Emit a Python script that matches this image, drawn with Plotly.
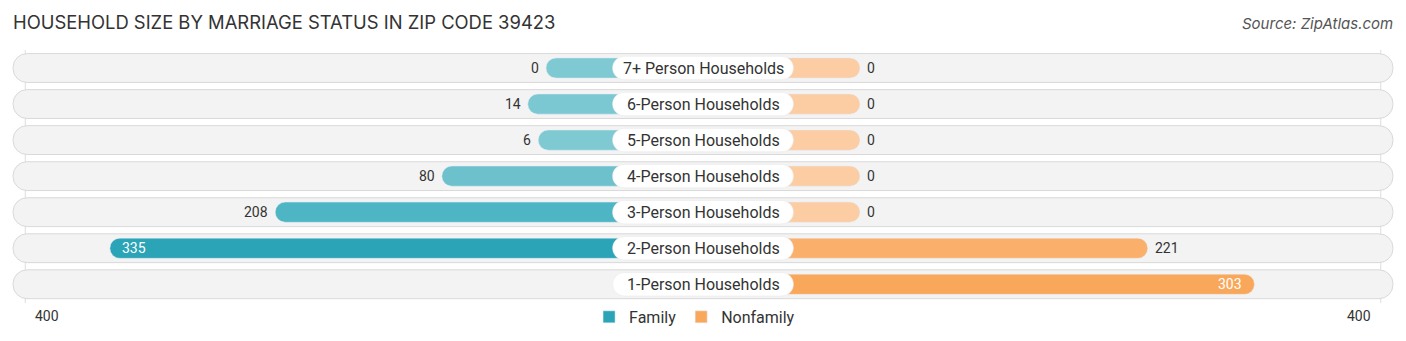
import plotly.graph_objects as go

categories = ["7+ Person Households", "6-Person Households", "5-Person Households",
              "4-Person Households", "3-Person Households", "2-Person Households",
              "1-Person Households"]
family = [0, 14, 6, 80, 208, 335, None]
nonfamily = [0, 0, 0, 0, 0, 221, 303]
family_colors = ["#7fc9d3", "#7cc8d2", "#7ec9d2", "#6cc1cc", "#4db5c3", "#2aa4b6", "#2aa4b6"]
nonfamily_colors = ["#fccca3", "#fccca3", "#fccca3", "#fccca3", "#fccca3", "#fab06b", "#f9a85b"]
axis_max = 400

OFF = 120.6          # hidden part of bar under the centre label (value units)
HALF = 530.0         # half width of row background
LBL = 69.5           # half width of label pill
n = len(categories)
ys = [n - 1 - i for i in range(n)]

fig = go.Figure()

# row backgrounds
fig.add_trace(go.Bar(
    y=ys, x=[2 * HALF] * n, base=[-HALF] * n, orientation="h", width=0.8,
    marker=dict(color="#f3f3f3", line=dict(color="#d9d9d9", width=1), cornerradius=14),
    showlegend=False, hoverinfo="skip"))

fy, fx, fc = [], [], []
for y, v, c in zip(ys, family, family_colors):
    if v is not None:
        fy.append(y); fx.append(-(v + OFF)); fc.append(c)
fig.add_trace(go.Bar(
    y=fy, x=fx, base=[0] * len(fy), orientation="h", width=0.56,
    marker=dict(color=fc, cornerradius=10), showlegend=False, name="Family"))

ny, nx, nc = [], [], []
for y, v, c in zip(ys, nonfamily, nonfamily_colors):
    if v is not None:
        ny.append(y); nx.append(v + OFF); nc.append(c)
fig.add_trace(go.Bar(
    y=ny, x=nx, base=[0] * len(ny), orientation="h", width=0.56,
    marker=dict(color=nc, cornerradius=10), showlegend=False, name="Nonfamily"))

# label pills
fig.add_trace(go.Bar(
    y=ys, x=[2 * LBL] * n, base=[-LBL] * n, orientation="h", width=0.65,
    marker=dict(color="#ffffff", line=dict(color="#e6e6e6", width=0.5), cornerradius=12),
    showlegend=False, hoverinfo="skip"))

# legend entries
fig.add_trace(go.Bar(y=[None], x=[None], orientation="h", name="Family",
                     marker=dict(color="#2aa4b6")))
fig.add_trace(go.Bar(y=[None], x=[None], orientation="h", name="Nonfamily",
                     marker=dict(color="#f9a85b")))

annotations = []
for y, cat in zip(ys, categories):
    annotations.append(dict(x=0, y=y, text=cat, showarrow=False, xref="x", yref="y",
                            font=dict(family="Roboto", size=16, color="#333333")))
for y, v in zip(ys, family):
    if v is None:
        continue
    if v > 300:
        annotations.append(dict(x=-(v + OFF), y=y, text=str(v), showarrow=False,
                                xanchor="left", xshift=10,
                                font=dict(family="Roboto", size=14, color="#ffffff")))
    else:
        annotations.append(dict(x=-(v + OFF), y=y, text=str(v), showarrow=False,
                                xanchor="right", xshift=-5,
                                font=dict(family="Roboto", size=14, color="#333333")))
for y, v in zip(ys, nonfamily):
    if v is None:
        continue
    if v > 300:
        annotations.append(dict(x=v + OFF, y=y, text=str(v), showarrow=False,
                                xanchor="right", xshift=-10,
                                font=dict(family="Roboto", size=14, color="#ffffff")))
    else:
        annotations.append(dict(x=v + OFF, y=y, text=str(v), showarrow=False,
                                xanchor="left", xshift=5,
                                font=dict(family="Roboto", size=14, color="#333333")))

annotations.append(dict(x=-(axis_max + OFF), y=-0.5, yref="y", text=str(axis_max),
                        showarrow=False, xanchor="left", yanchor="top", xshift=8, yshift=-4,
                        font=dict(family="Roboto", size=14, color="#333333")))
annotations.append(dict(x=axis_max + OFF, y=-0.5, yref="y", text=str(axis_max),
                        showarrow=False, xanchor="right", yanchor="top", xshift=-8, yshift=-4,
                        font=dict(family="Roboto", size=14, color="#333333")))
annotations.append(dict(x=0.008, y=(303 - 22) / 253, xref="paper", yref="paper",
                        yanchor="middle", xanchor="left",
                        text="HOUSEHOLD SIZE BY MARRIAGE STATUS IN ZIP CODE 39423",
                        showarrow=False,
                        font=dict(family="Inter", size=18.4, color="#333333")))
annotations.append(dict(x=0.9925, y=(303 - 24) / 253, xref="paper", yref="paper",
                        yanchor="middle", xanchor="right", text="<i>Source: ZipAtlas.com</i>",
                        showarrow=False,
                        font=dict(family="Inter", size=15, color="#555555")))

shapes = []
for xv in (-(axis_max + OFF), axis_max + OFF):
    shapes.append(dict(type="line", x0=xv, x1=xv, xref="x", yref="y", y0=-0.95, y1=6.6,
                       line=dict(color="#dddddd", width=1), layer="below"))

fig.update_layout(
    width=1406, height=341, barmode="overlay",
    margin=dict(l=0, r=0, t=50, b=38),
    paper_bgcolor="#ffffff", plot_bgcolor="#ffffff",
    xaxis=dict(range=[-540, 540], visible=False, fixedrange=True),
    yaxis=dict(range=[-0.52, 6.5], visible=False, fixedrange=True),
    annotations=annotations, shapes=shapes,
    legend=dict(orientation="h", x=0.494, xanchor="center", y=-0.055, yanchor="middle",
                font=dict(family="Roboto", size=16, color="#333333"),
                itemwidth=30, traceorder="normal", bgcolor="rgba(0,0,0,0)"),
    showlegend=True,
)

fig.write_html("out.html")
